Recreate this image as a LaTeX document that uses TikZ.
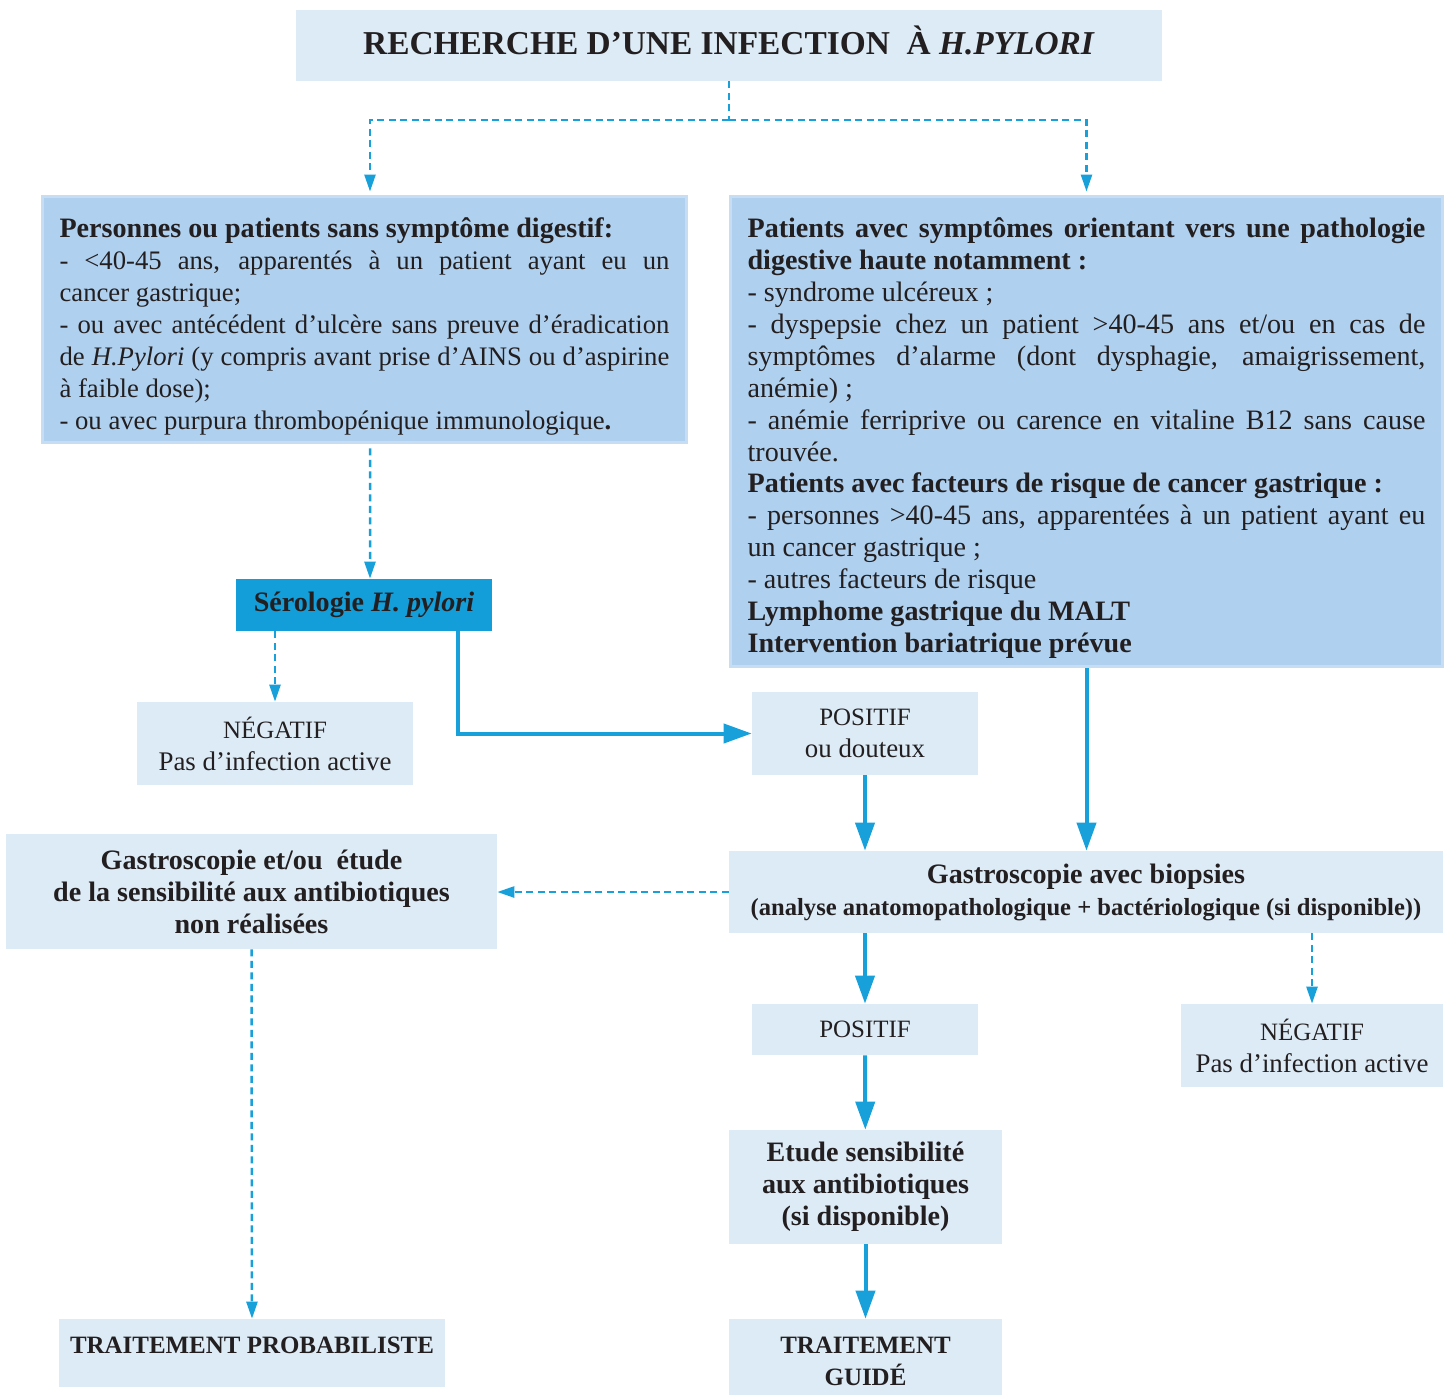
\documentclass[tikz,border=0pt]{standalone}
\usepackage{fontspec}
\setmainfont{Liberation Serif}
\usepackage{xcolor}
\usepackage{tikz}
\usetikzlibrary{arrows.meta, positioning, calc}
\definecolor{paleblue}{HTML}{DDEBF7}
\definecolor{midblue}{HTML}{AFD0EE}
\definecolor{edgeblue}{HTML}{C6DDF3}
\definecolor{deepblue}{HTML}{149ED9}
\definecolor{arrowblue}{HTML}{18A0DB}
\definecolor{inkgray}{HTML}{231F20}
\newcommand{\boxfont}{\fontsize{16}{18.2}\selectfont}
\newcommand{\labfont}{\fontsize{15.3}{18.2}\selectfont}
\newcommand{\capfont}{\fontsize{14.2}{18.2}\selectfont}
\newcommand{\titlefont}{\fontsize{19}{22}\selectfont\bfseries}
\tikzset{
  titlebox/.style={rectangle, fill=paleblue, text=inkgray, font=\titlefont, minimum width=17.32cm, minimum height=1.42cm, text depth=0.22cm},
  lightbox/.style={rectangle, fill=paleblue, text=inkgray, align=center, font=\labfont, inner sep=0pt},
  bigbox/.style={rectangle, fill=midblue, draw=edgeblue, line width=0.06cm, text=inkgray, align=justify, font=\boxfont,
    execute at begin node=\rule{0pt}{0.66cm}},
  serobox/.style={rectangle, fill=deepblue, text=inkgray, font=\boxfont\bfseries, minimum width=5.12cm, minimum height=1.04cm},
  arr/.style={-{Triangle[length=0.56cm, width=0.38cm]}, line width=0.08cm, arrowblue},
  darr/.style={-{Triangle[length=0.34cm, width=0.22cm]}, line width=0.05cm, arrowblue, dash pattern=on 0.14cm off 0.09cm},
}

\begin{document}
\begin{tikzpicture}[x=0.02cm, y=-0.02cm]
  \useasboundingbox (0,0) rectangle (1454,1394);

  % Title
  \node[titlebox] (title) at (729,45.5) {RECHERCHE D’UNE INFECTION~~À \textit{H.PYLORI}};

  % Patients without symptoms
  \node[bigbox, text width=12.2cm, minimum width=12.9cm, minimum height=4.94cm, font=\fontsize{15.2}{18.2}\selectfont] (nosym) at (364.5,319.5)
    {\textbf{\fontsize{16}{18.2}\selectfont Personnes ou patients sans symptôme digestif:}\\
     - <40-45 ans, apparentés à un patient ayant eu un\linebreak cancer gastrique;\\
     - ou avec antécédent d’ulcère sans preuve d’éradication\linebreak de \textit{H.Pylori} (y compris avant prise d’AINS ou d’aspirine\linebreak à faible dose);\\
     - ou avec purpura thrombopénique immunologique\textbf{.}};

  % Patients with symptoms
  \node[bigbox, text width=13.56cm, minimum width=14.26cm, minimum height=9.42cm] (sym) at (1086.5,431.5)
    {\textbf{Patients avec symptômes orientant vers une pathologie\linebreak digestive haute notamment :}\\
     - syndrome ulcéreux ;\\
     - dyspepsie chez un patient >40-45 ans et/ou en cas de\linebreak symptômes d’alarme (dont dysphagie, amaigrissement,\linebreak anémie) ;\\
     - anémie ferriprive ou carence en vitaline B12 sans cause\linebreak trouvée.\\
     \textbf{Patients avec facteurs de risque de cancer gastrique :}\\
     - personnes >40-45 ans, apparentées à un patient ayant eu\linebreak un cancer gastrique ;\\
     - autres facteurs de risque\\
     \textbf{Lymphome gastrique du MALT}\\
     \textbf{Intervention bariatrique prévue}};

  % Serology branch
  \node[serobox] (sero) at (364,605) {Sérologie \textit{H. pylori}};
  \node[lightbox, minimum width=5.52cm, minimum height=1.66cm] (neg1) at (275,743.5) {{\capfont NÉGATIF}\\Pas d’infection active};
  \node[lightbox, minimum width=4.52cm, minimum height=1.66cm] (pos1) at (865,733.5) {{\capfont POSITIF}\\ou douteux};

  % Gastroscopy
  \node[lightbox, minimum width=14.28cm, minimum height=1.64cm, font=\boxfont\bfseries] (gastro) at (1086,892)
    {Gastroscopie avec biopsies\\{\fontsize{14}{18.2}\selectfont(analyse anatomopathologique + bactériologique (si disponible))}};
  \node[lightbox, minimum width=9.82cm, minimum height=2.3cm, font=\boxfont\bfseries] (gsens) at (251.5,891.5)
    {Gastroscopie et/ou~~étude\\de la sensibilité aux antibiotiques\\non réalisées};
  \node[lightbox, minimum width=4.52cm, minimum height=1.02cm, font=\capfont] (pos2) at (865,1029.5) {POSITIF};
  \node[lightbox, minimum width=5.24cm, minimum height=1.66cm] (neg2) at (1312,1045.5) {{\capfont NÉGATIF}\\Pas d’infection active};
  \node[lightbox, minimum width=5.46cm, minimum height=2.28cm, font=\boxfont\bfseries] (etude) at (865.5,1187)
    {Etude sensibilité\\aux antibiotiques\\(si disponible)};

  % Treatments
  \node[lightbox, minimum width=7.72cm, minimum height=1.36cm, text depth=0.3cm, font=\capfont\bfseries] (tprob) at (252,1353) {TRAITEMENT PROBABILISTE};
  \node[lightbox, minimum width=5.46cm, minimum height=1.7cm, font=\capfont\bfseries] (tguide) at (865.5,1361.5) {TRAITEMENT\\GUIDÉ};

  % Arrows
  \coordinate (split) at (729,120);
  \draw[darr, -] (title.south) -- (split);
  \draw[darr] (split) -| ($(nosym.north)+(5.5,-3)$);
  \draw[darr] (split) -| ($(sym.north)+(0,-3)$);
  \draw[darr] ($(nosym.south)+(5.5,4)$) -- ($(sero.north)+(6,0)$);
  \draw[darr] (neg1.north |- sero.south) -- (neg1.north);
  \draw[arr] ($(sero.south)+(94,0)$) |- (pos1.west);
  \draw[arr] (pos1) -- (pos1 |- gastro.north);
  \draw[arr] (sym.south) -- (sym.south |- gastro.north);
  \draw[darr] (gastro.west) -- (gsens.east |- gastro.west);
  \draw[darr] (gsens.south) -- (tprob.north);
  \draw[arr] (pos2 |- gastro.south) -- (pos2.north);
  \draw[darr] (neg2 |- gastro.south) -- (neg2.north);
  \draw[arr] (pos2) -- (etude);
  \draw[arr] (etude) -- (tguide);
\end{tikzpicture}
\end{document}
